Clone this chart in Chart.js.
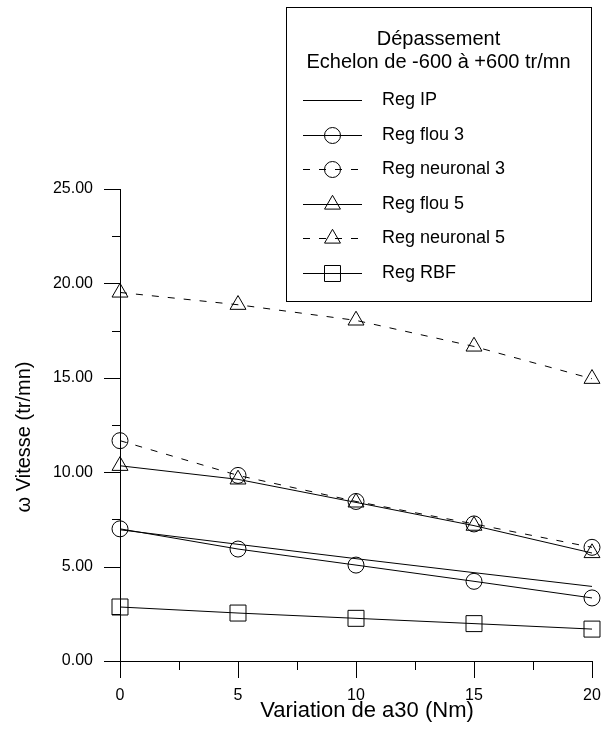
<!DOCTYPE html>
<html>
<head>
<meta charset="utf-8">
<script src="https://cdn.jsdelivr.net/npm/chart.js@4"></script>
<style>body{margin:0;background:#fff}</style>
</head>
<body>
<canvas id="graph" width="609" height="729"></canvas>
<script>
// valeurs
var couples = [0, 5, 10, 15, 20];
var regIP = [6.95, 6.18, 5.42, 4.68, 3.95];
var regFlou3 = [7.0, 5.93, 5.08, 4.22, 3.34];
var regNeuronal3 = [11.67, 9.83, 8.45, 7.26, 6.02];
var regFlou5 = [10.34, 9.62, 8.4, 7.17, 5.72];
var regNeuronal5 = [19.52, 18.87, 18.04, 16.66, 14.95];
var regRBF = [2.86, 2.54, 2.26, 1.98, 1.69];
var titreLegende = ['Dépassement', 'Echelon de -600 à +600 tr/mn'];
var titreX = 'Variation de a30 (Nm)';
var titreY = 'ω Vitesse (tr/mn)';

var police = '"Liberation Sans", Arial, sans-serif';

function points(valeurs) {
    return valeurs.map(function(v, i) {
        return {x: couples[i], y: v};
    });
}

function serie(nom, valeurs, style, pointille) {
    return {
        label: nom,
        data: points(valeurs),
        clip: false,
        borderColor: '#000',
        borderWidth: 1,
        borderDash: pointille ? [7, 9] : [],
        backgroundColor: 'rgba(0,0,0,0)',
        pointStyle: style || 'circle',
        pointRadius: style === 'rect' ? 11.3 : (style === 'triangle' ? 9.2 : (style ? 8 : 0)),
        pointBackgroundColor: 'rgba(0,0,0,0)',
        pointBorderColor: '#000',
        pointBorderWidth: 1,
        tension: 0
    };
}

// axes a la main : traits, graduations majeures et mineures, titres
var axesPlugin = {
    id: 'axes',
    afterDraw: function(chart) {
        var ctx = chart.ctx;
        var sx = chart.scales.x, sy = chart.scales.y;
        var x0 = sx.getPixelForValue(0), y0 = sy.getPixelForValue(0);
        ctx.save();
        ctx.strokeStyle = '#000';
        ctx.lineWidth = 1;
        ctx.beginPath();
        ctx.moveTo(x0 - 16, y0 + 0.5);
        ctx.lineTo(sx.getPixelForValue(20), y0 + 0.5);
        ctx.moveTo(x0 + 0.5, sy.getPixelForValue(25));
        ctx.lineTo(x0 + 0.5, y0 + 17);
        for (var v = 0; v <= 25; v += 2.5) {
            var py = Math.round(sy.getPixelForValue(v)) + 0.5;
            ctx.moveTo(x0 - (v % 5 === 0 ? 16 : 8), py);
            ctx.lineTo(x0, py);
        }
        for (var u = 0; u <= 20; u += 2.5) {
            var px = Math.round(sx.getPixelForValue(u)) + 0.5;
            ctx.moveTo(px, y0);
            ctx.lineTo(px, y0 + (u % 5 === 0 ? 17 : 9));
        }
        ctx.stroke();

        ctx.fillStyle = '#000';
        ctx.textAlign = 'center';
        ctx.textBaseline = 'middle';
        ctx.font = '22px ' + police;
        ctx.fillText(titreX, 367, 711);
        ctx.translate(24, 437);
        ctx.rotate(-Math.PI / 2);
        ctx.font = '20px ' + police;
        ctx.fillText(titreY, 0, 0);
        ctx.restore();
    }
};

// legende encadree en haut a droite
var legendePlugin = {
    id: 'legende',
    afterDraw: function(chart) {
        var ctx = chart.ctx;
        ctx.save();
        ctx.fillStyle = '#fff';
        ctx.fillRect(286, 7, 305, 294);
        ctx.strokeStyle = '#000';
        ctx.lineWidth = 1;
        ctx.strokeRect(286.5, 7.5, 305, 294);
        ctx.fillStyle = '#000';
        ctx.font = '20px ' + police;
        ctx.textAlign = 'center';
        ctx.textBaseline = 'middle';
        ctx.fillText(titreLegende[0], 438.5, 39);
        ctx.fillText(titreLegende[1], 438.5, 62);
        ctx.font = '18px ' + police;
        ctx.textAlign = 'left';
        chart.data.datasets.forEach(function(ds, i) {
            var y = Math.round(100 + i * 34.5) + 0.5;
            ctx.setLineDash(ds.borderDash);
            ctx.beginPath();
            ctx.moveTo(303, y);
            ctx.lineTo(362, y);
            ctx.stroke();
            ctx.setLineDash([]);
            if (ds.pointRadius > 0) {
                ctx.save();
                ctx.fillStyle = 'rgba(0,0,0,0)';
                Chart.helpers.drawPoint(ctx, {
                    pointStyle: ds.pointStyle,
                    radius: ds.pointRadius,
                    rotation: 0,
                    borderWidth: 1
                }, 332.5, y);
                ctx.restore();
            }
            ctx.fillText(ds.label, 382, y);
        });
        ctx.restore();
    }
};

var ctx = document.getElementById('graph').getContext('2d');
var myChart = new Chart(ctx, {
    type: 'line',
    data: {
        datasets: [
            serie('Reg IP', regIP, false, false),
            serie('Reg flou 3', regFlou3, 'circle', false),
            serie('Reg neuronal 3', regNeuronal3, 'circle', true),
            serie('Reg flou 5', regFlou5, 'triangle', false),
            serie('Reg neuronal 5', regNeuronal5, 'triangle', true),
            serie('Reg RBF', regRBF, 'rect', false)
        ]
    },
    options: {
        responsive: false,
        animation: false,
        layout: {padding: {left: 0, top: 189, right: 17, bottom: 0}},
        plugins: {legend: {display: false}, tooltip: {enabled: false}},
        scales: {
            x: {
                type: 'linear',
                min: 0,
                max: 20,
                afterFit: function(scale) { scale.height = 68; },
                border: {display: false},
                grid: {display: false, drawTicks: true, tickLength: 17},
                ticks: {
                    stepSize: 2.5,
                    padding: 8,
                    color: '#000',
                    font: {family: police, size: 16},
                    maxRotation: 0,
                    callback: function(v) { return v % 5 === 0 ? String(v) : ''; }
                }
            },
            y: {
                min: 0,
                max: 25,
                afterFit: function(scale) { scale.width = 120; },
                border: {display: false},
                grid: {display: false, drawTicks: true, tickLength: 16},
                ticks: {
                    stepSize: 2.5,
                    padding: 11,
                    color: '#000',
                    font: {family: police, size: 16},
                    callback: function(v) { return v % 5 === 0 ? v.toFixed(2) : ''; }
                }
            }
        }
    },
    plugins: [axesPlugin, legendePlugin]
});
</script>
</body>
</html>
